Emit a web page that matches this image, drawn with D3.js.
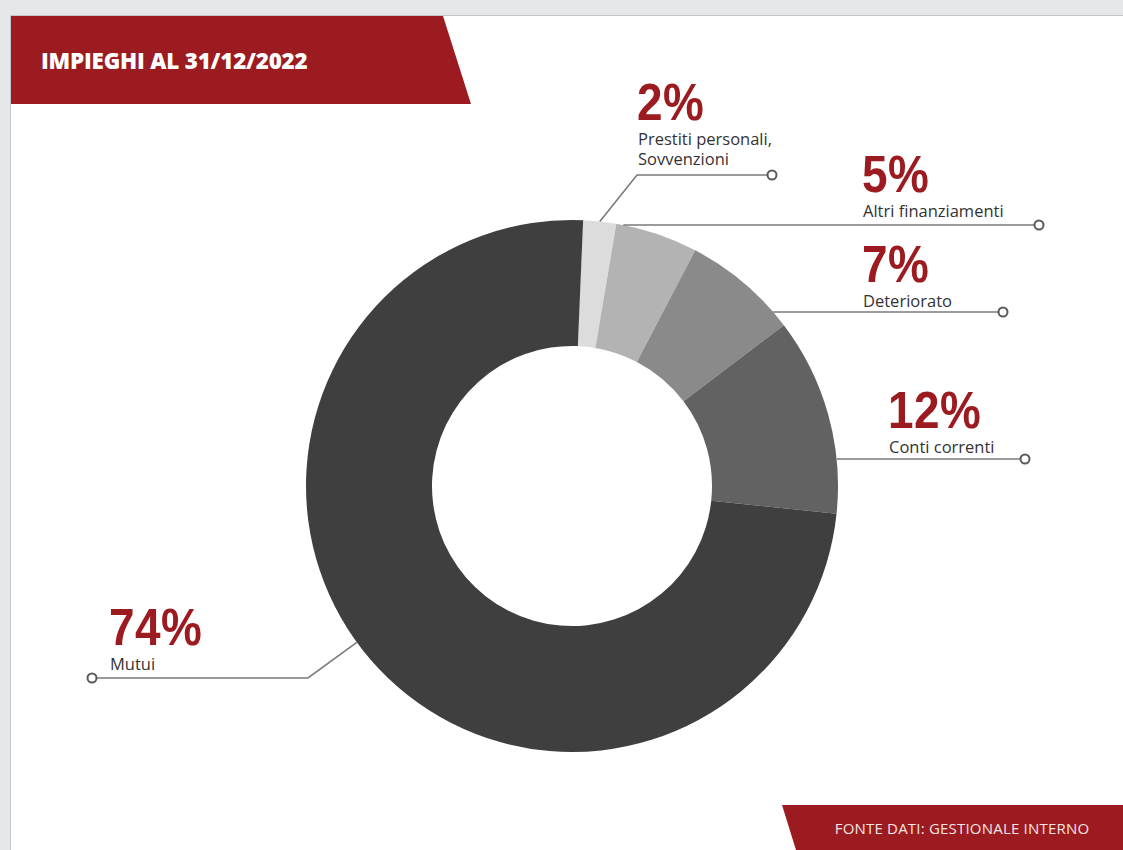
<!DOCTYPE html>
<html lang="it">
<head>
<meta charset="utf-8">
<title>Impieghi al 31/12/2022</title>
<script src="https://cdn.jsdelivr.net/npm/d3@7/dist/d3.min.js"></script>
<style>
  html, body { margin: 0; padding: 0; background: #e6e7e9; }
  svg { display: block; }
</style>
</head>
<body>
<svg id="chart" width="1123" height="850"></svg>
<script>
// Composition of loans (impieghi) at 31/12/2022, in percent
const categories = ["Prestiti personali, Sovvenzioni", "Altri finanziamenti", "Deteriorato", "Conti correnti", "Mutui"];
const values = [2, 5, 7, 12, 74];
const labelLines = [["Prestiti personali,", "Sovvenzioni"], ["Altri finanziamenti"], ["Deteriorato"], ["Conti correnti"], ["Mutui"]];
const sliceColors = ["#dcdcdc", "#b3b3b3", "#8a8a8a", "#626262", "#3f3f3f"];
const titleText = "IMPIEGHI AL 31/12/2022";
const sourceText = "FONTE DATI: GESTIONALE INTERNO";

const W = 1123, H = 850;
const RED = "#9c1b20";
const svg = d3.select("#chart");

// page background and white panel
svg.append("rect").attr("width", W).attr("height", H).attr("fill", "#e6e7e9");
svg.append("rect").attr("x", 10.5).attr("y", 15.5).attr("width", W).attr("height", H)
  .attr("fill", "#ffffff").attr("stroke", "#c4c6c9").attr("stroke-width", 1);

// title banner with slanted right edge
svg.append("path")
  .attr("d", "M11,16 L443,16 L471,104 L11,104 Z")
  .attr("fill", RED);
svg.append("text")
  .attr("x", 41).attr("y", 69)
  .attr("fill", "#ffffff")
  .attr("font-family", "'Open Sans', sans-serif")
  .attr("font-weight", 800)
  .attr("font-size", 22.4)
  .attr("letter-spacing", -0.2)
  .text(titleText);

// source banner, bottom right
svg.append("path")
  .attr("d", `M782,805 L${W},805 L${W},${H} L796,${H} Z`)
  .attr("fill", RED);
svg.append("text")
  .attr("x", 962).attr("y", 834)
  .attr("text-anchor", "middle")
  .attr("fill", "#f3e4e4")
  .attr("font-family", "'Open Sans', sans-serif")
  .attr("font-weight", 500)
  .attr("font-size", 15)
  .attr("letter-spacing", 0.2)
  .text(sourceText);

// donut
const cx = 572, cy = 486, rOuter = 266, rInner = 140;
const startOffset = 2.4 * Math.PI / 180;
const pie = d3.pie().sort(null).value(d => d)
  .startAngle(startOffset).endAngle(startOffset + 2 * Math.PI);
const arcs = pie(values);
const arc = d3.arc().innerRadius(rInner).outerRadius(rOuter);

const g = svg.append("g").attr("transform", `translate(${cx},${cy})`);
g.selectAll("path.slice")
  .data(arcs)
  .join("path")
  .attr("class", "slice")
  .attr("d", arc)
  .attr("fill", (d, i) => sliceColors[i]);

// point on the outer rim at a given angle (radians, clockwise from 12 o'clock)
const rim = a => [cx + rOuter * Math.sin(a), cy - rOuter * Math.cos(a)];
// point on the outer rim at a given height on the right-hand side
const rimAtY = y => [cx + Math.sqrt(rOuter * rOuter - (y - cy) * (y - cy)), y];

// leader lines: either a diagonal from the rim to an elbow, or horizontal from the rim
const leaders = [
  { from: rim((arcs[0].startAngle + arcs[0].endAngle) / 2), elbow: [637, 175], end: [772, 175] },
  { from: rimAtY(225), end: [1039, 225] },
  { from: rimAtY(312), end: [1003, 312] },
  { from: rimAtY(459), end: [1025, 459] },
  { from: rim(234 * Math.PI / 180), elbow: [308, 678], end: [92, 678] }
];

const labelPos = [
  { x: 637, y: 120 },
  { x: 862, y: 192 },
  { x: 862, y: 282 },
  { x: 888, y: 428 },
  { x: 109, y: 645 }
];

const lineGen = d3.line();
leaders.forEach(l => {
  const pts = [l.from];
  if (l.elbow) pts.push(l.elbow);
  pts.push(l.end);
  svg.append("path")
    .attr("d", lineGen(pts))
    .attr("fill", "none")
    .attr("stroke", "#7a7a7a")
    .attr("stroke-width", 1.6);
  svg.append("circle")
    .attr("cx", l.end[0]).attr("cy", l.end[1]).attr("r", 4.5)
    .attr("fill", "#ffffff")
    .attr("stroke", "#5a5a5a")
    .attr("stroke-width", 2);
});

// labels: condensed percentage and category name
const labels = svg.append("g");
values.forEach((v, i) => {
  const p = labelPos[i];
  labels.append("text")
    .attr("transform", `translate(${p.x},${p.y}) scale(0.9,1)`)
    .attr("fill", RED)
    .attr("font-family", "'Liberation Sans', Arial, sans-serif")
    .attr("font-weight", 700)
    .attr("font-size", 51)
    .attr("letter-spacing", 0.5)
    .text(v + "%");
  labelLines[i].forEach((t, j) => {
    labels.append("text")
      .attr("x", p.x + 1).attr("y", p.y + 25 + j * 20)
      .attr("fill", "#333333")
      .attr("font-family", "'Open Sans', sans-serif")
      .attr("font-size", 16.5)
      .text(t);
  });
});
</script>
</body>
</html>
